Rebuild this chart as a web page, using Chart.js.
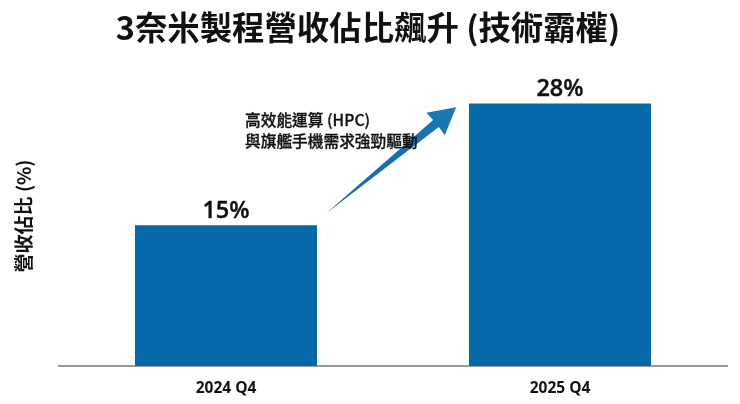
<!DOCTYPE html>
<html>
<head>
<meta charset="utf-8">
<script src="https://cdn.jsdelivr.net/npm/chart.js@4/dist/chart.umd.min.js"></script>
<style>
  html, body { margin: 0; padding: 0; background: #fff; }
  #wrap { width: 740px; height: 404px; }
</style>
</head>
<body>
<div id="wrap"><canvas id="chart" width="740" height="404"></canvas></div>
<script>
const categories = ['2024 Q4', '2025 Q4'];
const shareValues = [15, 28];
const noteLines = ['高效能運算 (HPC)', '與旗艦手機需求強勁驅動'];
const arrowFrom = [0.3, 16.3];  // category position, percent
const arrowTo = [0.689, 27.6];

const cjk = '"Noto Sans CJK TC", "Noto Sans", sans-serif';
const latin = '"Open Sans", "Noto Sans", sans-serif';

// value labels above the bars
const barLabels = {
  id: 'barLabels',
  afterDatasetsDraw(chart) {
    const ctx = chart.ctx;
    ctx.save();
    ctx.font = '600 23.5px ' + latin;
    ctx.fillStyle = '#111';
    ctx.strokeStyle = '#111';
    ctx.lineWidth = 0.4;
    ctx.textAlign = 'center';
    ctx.textBaseline = 'alphabetic';
    chart.getDatasetMeta(0).data.forEach((bar, i) => {
      ctx.fillText(shareValues[i] + '%', bar.x, bar.y - 7);
      ctx.strokeText(shareValues[i] + '%', bar.x, bar.y - 7);
    });
    ctx.restore();
  }
};

// growth arrow and its note
const growthArrow = {
  id: 'growthArrow',
  afterDatasetsDraw(chart) {
    const { x, y } = chart.scales;
    const ctx = chart.ctx;
    const x0 = x.getPixelForValue(arrowFrom[0]), y0 = y.getPixelForValue(arrowFrom[1]);
    const x1 = x.getPixelForValue(arrowTo[0]), y1 = y.getPixelForValue(arrowTo[1]);
    const a = Math.atan2(y1 - y0, x1 - x0);
    const pt = (along, side) => [
      x1 + along * Math.cos(a) - side * Math.sin(a),
      y1 + along * Math.sin(a) + side * Math.cos(a)
    ];
    const grad = ctx.createLinearGradient(x0, y0, x1, y1);
    grad.addColorStop(0, '#0d6aa6');
    grad.addColorStop(1, '#1a78b4');
    ctx.save();
    ctx.fillStyle = grad;
    ctx.beginPath();
    ctx.moveTo(x0, y0);
    [pt(-26, -4.5), pt(-26.5, -14.5), pt(0, 0), pt(-26.5, 14.5), pt(-26, 4.5)].forEach(p => ctx.lineTo(p[0], p[1]));
    ctx.closePath();
    ctx.fill();

    ctx.font = '500 15.7px ' + cjk;
    ctx.fillStyle = '#111';
    ctx.strokeStyle = '#111';
    ctx.lineWidth = 0.3;
    ctx.textAlign = 'left';
    ctx.textBaseline = 'middle';
    const left = x.getPixelForValue(0.057);
    noteLines.forEach((line, i) => {
      const py = y.getPixelForValue(26.2 - i * 2.24);
      ctx.fillText(line, left, py);
      ctx.strokeText(line, left, py);
    });
    ctx.restore();
  }
};

new Chart(document.getElementById('chart'), {
  type: 'bar',
  data: {
    labels: categories,
    datasets: [{
      data: shareValues,
      backgroundColor: '#0468a9',
      categoryPercentage: 0.545,
      barPercentage: 1
    }]
  },
  options: {
    responsive: false,
    animation: false,
    layout: { padding: { right: 13, left: 9, top: 0, bottom: 0 } },
    plugins: {
      legend: { display: false },
      tooltip: { enabled: false },
      title: {
        display: true,
        text: '3奈米製程營收佔比飆升 (技術霸權)',
        color: '#111',
        font: { family: cjk, size: 32.4, weight: '700' },
        padding: { top: 8, bottom: 19 }
      }
    },
    scales: {
      x: {
        grid: { display: false, drawTicks: false },
        border: { color: '#999', width: 2 },
        ticks: { color: '#111', font: { family: latin, size: 15.5, weight: '700' }, padding: 13 },
        afterFit(s) { s.height = 38; }
      },
      y: {
        min: 0,
        max: 32,
        grid: { display: false, drawTicks: false },
        border: { display: false },
        ticks: { display: false },
        title: {
          display: true,
          text: '營收佔比 (%)',
          color: '#111',
          font: { family: cjk, size: 19, weight: '700' },
          padding: { top: 3, bottom: 0 }
        },
        afterFit(s) { s.width = 50; }
      }
    }
  },
  plugins: [barLabels, growthArrow]
});
</script>
</body>
</html>
